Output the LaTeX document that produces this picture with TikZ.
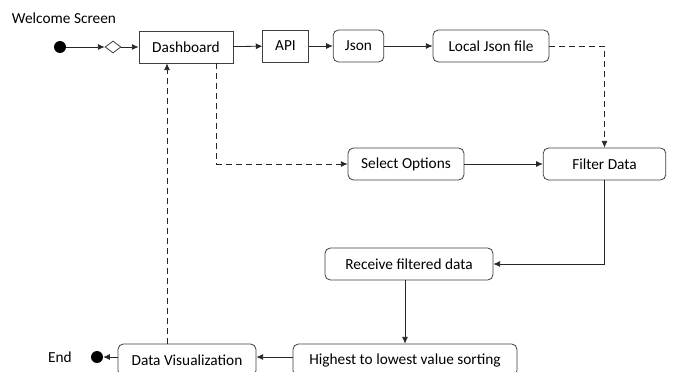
\documentclass[tikz,border=0pt]{standalone}
\usepackage{fontspec}
\setmainfont{Carlito}
\usepackage{tikz}
\usetikzlibrary{positioning, shapes.geometric, arrows.meta, calc}

\begin{document}
\begin{tikzpicture}[
  x=0.75pt, y=-0.75pt,
  font=\fontsize{11.5}{13}\selectfont,
  box/.style={
    rectangle, draw=black!75, line width=0.6pt,
    minimum width=#1, minimum height=24pt,
    inner sep=2pt, fill=white,
  },
  rbox/.style={box=#1, rounded corners=4pt},
  arrow/.style={-{Latex[length=5pt,width=4.5pt]}, line width=0.6pt, black!85},
  darrow/.style={arrow, dash pattern=on 4.5pt off 3pt},
  dot/.style={circle, fill=black, inner sep=0pt, minimum size=9pt},
]
\useasboundingbox (0,0) rectangle (673,371);
\clip (0,0) rectangle (673,371);

% Top row: start, choice, dashboard and the data source chain.
\node[dot] (start) at (60,47) {};
\node[diamond, draw=black!75, line width=0.6pt, fill=white,
  minimum width=12pt, minimum height=9pt, inner sep=0pt] (choice) at (113,47) {};
\node[box=70.5pt] (dash)  at (186,47)   {Dashboard};
\node[box=34pt]   (api)   at (285.5,46) {API};
\node[rbox=38pt]  (json)  at (358.5,46) {Json};
\node[rbox=87pt]  (local) at (491,46)   {Local Json file};

% Middle row.
\node[rbox=87pt]  (select) at (406,164)   {Select Options};
\node[rbox=92pt]  (filter) at (604.5,164) {Filter Data};

% Lower rows (cut off at the bottom, as in the source page).
\node[rbox=126pt] (receive) at (409,264) {Receive filtered data};
\node[rbox=168pt] (sorting) at (405,360) {Highest to lowest value sorting};
\node[rbox=103.5pt] (visual) at (187,360) {Data Visualization};
\node[dot] (stop) at (97,357) {};

% Plain labels.
\node (welcome) at (64,18) {Welcome Screen};
\node (endlbl)  at (60,357) {End};

% Connectors.
\draw[arrow] (start) -- (choice);
\draw[arrow] (choice) -- (dash);
\draw[arrow] (dash) -- (api);
\draw[arrow] (api) -- (json);
\draw[arrow] (json) -- (local);
\draw[darrow] (local.east) -| (filter.north);
\draw[darrow] ([xshift=23pt]dash.south) |- (select.west);
\draw[arrow] (select) -- (filter);
\draw[arrow] (filter.south) |- (receive.east);
\draw[arrow] (receive.south -| sorting.north) -- (sorting.north);
\draw[arrow] (sorting.west |- stop) -- (visual.east |- stop);
\draw[arrow] (visual.west |- stop) -- (stop);
\draw[darrow] ([xshift=-15pt]visual.north) -- ([xshift=-15pt]visual.north |- dash.south);

\end{tikzpicture}
\end{document}
